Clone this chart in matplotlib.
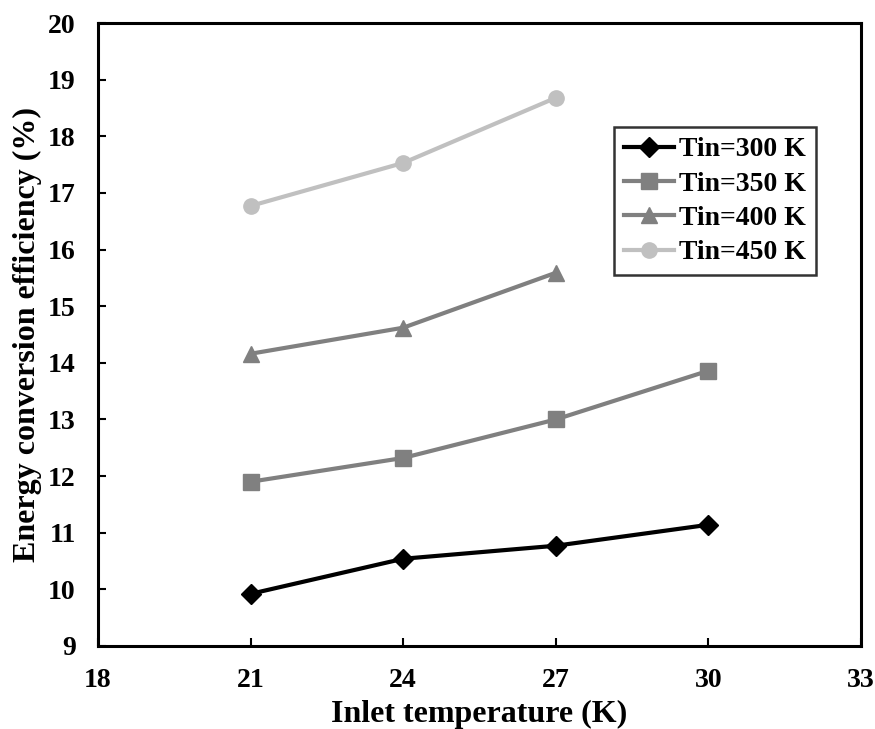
import matplotlib
matplotlib.use("Agg")
import matplotlib.pyplot as plt

plt.rcParams['font.family'] = ['Liberation Serif', 'DejaVu Serif']
plt.rcParams['font.weight'] = 'bold'

# inlet temperature (K) and efficiency (%) per Tin series
inlet_t = [21, 24, 27, 30]
eff_300 = [9.92, 10.54, 10.77, 11.14]
eff_350 = [11.90, 12.32, 13.00, 13.86]
inlet_t_short = [21, 24, 27]
eff_400 = [14.16, 14.62, 15.59]
eff_450 = [16.77, 17.53, 18.68]

labels = ['Tin=300 K', 'Tin=350 K', 'Tin=400 K', 'Tin=450 K']
xticks = [18, 21, 24, 27, 30, 33]
yticks = list(range(9, 21))

fig = plt.figure(figsize=(8.75, 7.29), dpi=100)
ax = fig.add_axes([0.112, 0.1139, 0.872, 0.8545])

ax.plot(inlet_t, eff_300, color='black', lw=3, marker='D', ms=10, label=labels[0])
ax.plot(inlet_t, eff_350, color='#808080', lw=3, marker='s', ms=11, label=labels[1])
ax.plot(inlet_t_short, eff_400, color='#808080', lw=3, marker='^', ms=12, label=labels[2])
ax.plot(inlet_t_short, eff_450, color='#c0c0c0', lw=3, marker='o', ms=11, label=labels[3])

ax.set_xlim(18, 33)
ax.set_ylim(9, 20)
ax.set_xticks(xticks)
ax.set_yticks(yticks)
ax.tick_params(direction='in', length=6, width=1.5, labelsize=20)
ax.tick_params(axis='y', pad=16)
ax.tick_params(axis='x', pad=16)
for s in ax.spines.values():
    s.set_linewidth(2.2)

ax.set_xlabel('Inlet temperature (K)', fontsize=23, fontweight='bold', labelpad=5)
ax.set_ylabel('Energy conversion efficiency (%)', fontsize=23, fontweight='bold', labelpad=4)

leg = ax.legend(loc='upper left', bbox_to_anchor=(0.676, 0.833), borderaxespad=0,
                frameon=True, fancybox=False, edgecolor='black', handlelength=1.8,
                handletextpad=0.2, borderpad=0.35, labelspacing=0.32,
                prop={'weight': 'bold', 'size': 20})
leg.get_frame().set_linewidth(1.8)

fig.savefig('out.png', dpi=100)
